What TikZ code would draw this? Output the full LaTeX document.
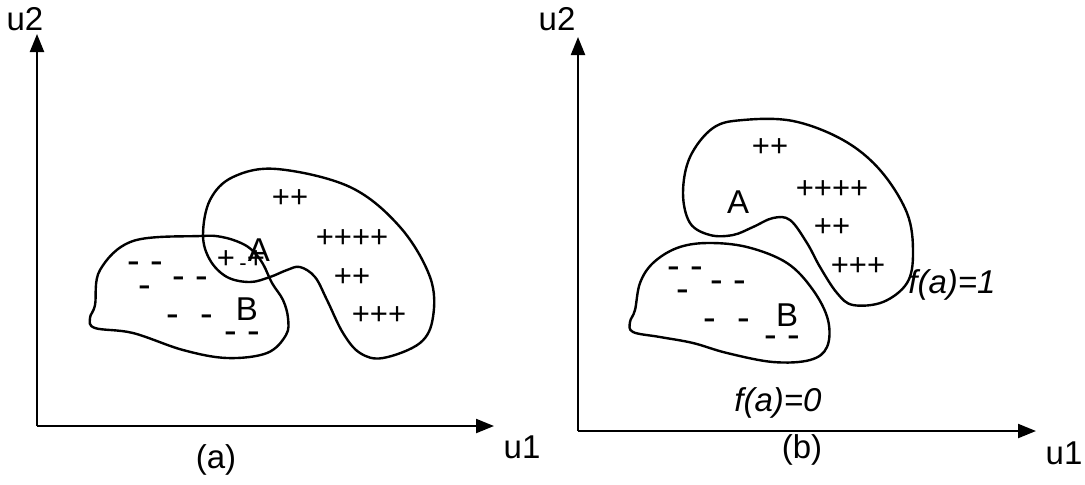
\documentclass[tikz,border=0pt]{standalone}
\usepackage{fontspec}
\setmainfont{Liberation Sans}
\usetikzlibrary{arrows.meta}

\begin{document}
\begin{tikzpicture}[
  x=0.5pt, y=-0.5pt,
  axis/.style={-{Triangle[length=9pt, width=7pt]}, line width=1.1pt},
  blob/.style={line width=1.2pt},
  sign/.style={font=\fontsize{15.5}{18}\selectfont, inner sep=0pt},
  minus/.style={font=\fontsize{19}{22}\selectfont, inner sep=0pt},
  letter/.style={font=\fontsize{16.5}{19}\selectfont, inner sep=0pt},
  note/.style={font=\fontsize{16.5}{19}\selectfont\itshape, inner sep=0pt}
]
  \useasboundingbox (0,0) rectangle (1085,484);

  % ---- panel (a) ----
  \coordinate (oa) at (37,426);
  \coordinate (ya) at (37,34);
  \coordinate (xa) at (494,426);
  \draw[axis] (oa) -- (ya);
  \draw[axis] (oa) -- (xa);
  \node[letter] (u2a) at (25,19) {u2};
  \node[letter] (u1a) at (522,447) {u1};
  \node[letter] (capa) at (216,460) {(a)};

  \draw[blob] plot[smooth cycle, tension=0.6] coordinates {
    (200,236) (222,237) (241,243) (253,251) (263,264) (272,283)
    (283,300) (288,318) (286,335) (267,353) (227,358) (183,350)
    (133,333) (95,328) (90,318) (95,305) (100,270) (133,241)};
  \draw[blob] plot[smooth cycle, tension=0.6] coordinates {
    (277,169) (350,187) (400,227) (430,277) (433,317) (420,343)
    (383,358) (360,353) (343,333) (327,300) (315,277) (300,267)
    (287,270) (270,277) (250,282) (227,277) (210,260) (203,235)
    (210,200) (233,177)};

  \node[sign] (pa1) at (290,199) {++};
  \node[sign] (pa2) at (352,239) {++++};
  \node[sign] (pa3) at (352,278) {++};
  \node[sign] (pa4) at (379,316) {+++};
  \node[sign] (pa5) at (226,260) {+};
  \node[sign, font=\fontsize{11}{12}\selectfont] (ma0) at (243,267) {-};
  \node[sign] (pa6) at (256,260) {+};
  \node[letter] (Aa) at (259,250) {A};

  \node[minus] (ma1) at (145,268) {- -};
  \node[minus] (ma2) at (190,283) {- -};
  \node[minus] (ma3) at (145,292) {-};
  \node[minus] (ma4) at (190,321) {- \ -};
  \node[letter] (Ba) at (247,309) {B};
  \node[minus] (ma5) at (242,338) {- -};

  % ---- panel (b) ----
  \coordinate (ob) at (578,431);
  \coordinate (yb) at (578,37);
  \coordinate (xb) at (1036,431);
  \draw[axis] (ob) -- (yb);
  \draw[axis] (ob) -- (xb);
  \node[letter] (u2b) at (557,19) {u2};
  \node[letter] (u1b) at (1064,453) {u1};
  \node[letter] (capb) at (802,450) {(b)};

  \draw[blob] plot[smooth cycle, tension=0.6] coordinates {
    (743,120) (793,121) (843,140) (880,170) (907,213) (913,253)
    (907,283) (883,302) (853,305) (837,293) (820,267) (807,243)
    (790,220) (773,218) (753,227) (733,235) (710,235) (690,223)
    (683,193) (690,157) (713,128)};
  \draw[blob] plot[smooth cycle, tension=0.6] coordinates {
    (707,243) (747,247) (787,263) (813,290) (828,320) (827,347)
    (810,360) (773,362) (727,353) (693,343) (660,337) (633,332)
    (630,322) (635,310) (640,283) (653,263) (677,248)};

  \node[sign] (pb1) at (770,148) {++};
  \node[sign] (pb2) at (832,190) {++++};
  \node[letter] (Ab) at (738,202) {A};
  \node[sign] (pb3) at (832,228) {++};
  \node[sign] (pb4) at (858,267) {+++};

  \node[minus] (mb1) at (685,273) {- -};
  \node[minus] (mb2) at (728,287) {- -};
  \node[minus] (mb3) at (683,296) {-};
  \node[letter] (Bb) at (787,315) {B};
  \node[minus] (mb4) at (727,325) {- \ -};
  \node[minus] (mb5) at (782,342) {- -};

  \node[note] (f1) at (952,285) {f(a)=1};
  \node[note] (f0) at (778,403) {f(a)=0};
\end{tikzpicture}
\end{document}
